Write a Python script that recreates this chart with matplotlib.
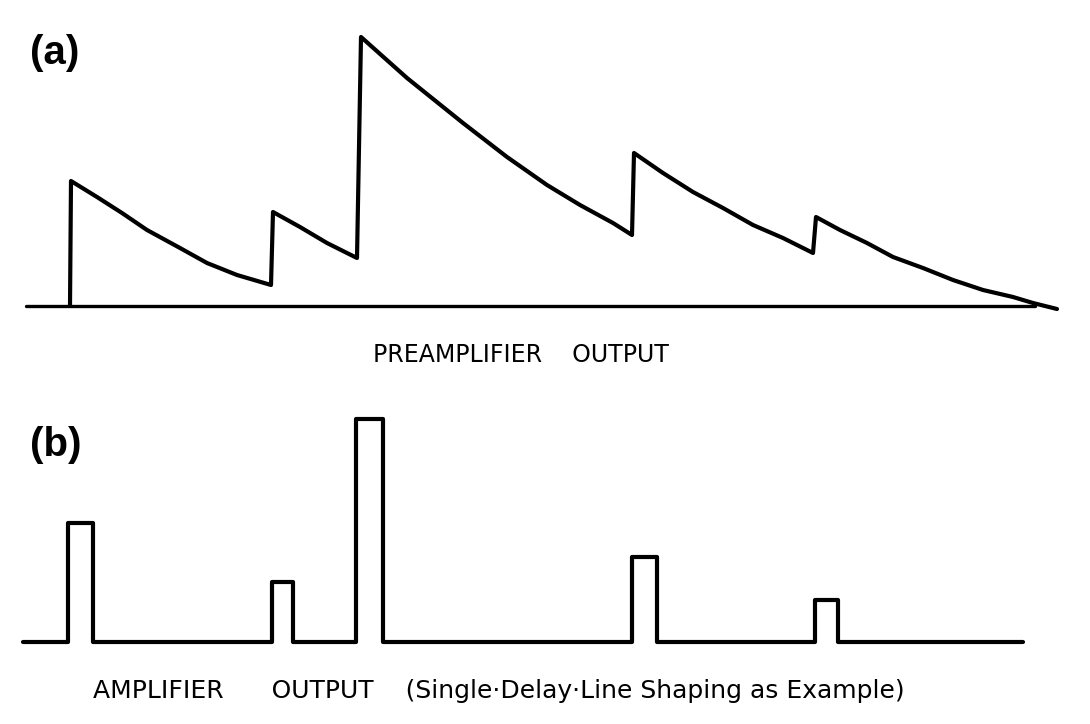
import numpy as np
import matplotlib
matplotlib.use('Agg')
import matplotlib.pyplot as plt

# (a) preamplifier output: time / amplitude
pre_t = [70, 71, 97, 122, 147, 180, 207, 237, 271,
         273, 300, 327, 357,
         361, 407, 463, 507, 547, 580, 613, 632,
         634, 663, 693, 723, 753, 783, 813,
         816, 840, 867, 893, 923, 953, 983, 1013, 1033, 1057]
pre_v = [0, 125, 109, 93, 76, 58, 43, 31, 21,
         94, 79, 63, 48,
         269, 228, 183, 149, 121, 101, 83, 71,
         153, 133, 114, 98, 81, 68, 53,
         89, 76, 63, 49, 38, 26, 16, 9, 3, -3]
pre_axis = [26, 1035]

# (b) amplifier output: shaped pulses
pulse_start = [68, 272, 356, 632, 815]
pulse_end = [93, 293, 383, 657, 838]
pulse_height = [119, 60, 223, 85, 42]
amp_axis = [23, 1023]

W, H = 1090, 724
fig = plt.figure(figsize=(W / 100, H / 100), dpi=100)

# panel (a)
ax1 = fig.add_axes([0, 1 - 330 / H, 1, 330 / H])
ax1.plot(pre_axis, [0, 0], color='black', lw=2.4, solid_capstyle='round')
ax1.plot(pre_t, pre_v, color='black', lw=3, solid_joinstyle='round',
         solid_capstyle='round')
ax1.set_xlim(0, W)
ax1.set_ylim(-24, 306)
ax1.axis('off')

# panel (b)
amp_t = [amp_axis[0]]
amp_v = [0]
for s, e, h in zip(pulse_start, pulse_end, pulse_height):
    amp_t += [s, s, e, e]
    amp_v += [0, h, h, 0]
amp_t.append(amp_axis[1])
amp_v.append(0)

ax2 = fig.add_axes([0, (H - 666) / H, 1, 300 / H])
ax2.plot(amp_t, amp_v, color='black', lw=3, solid_joinstyle='round',
         solid_capstyle='round')
ax2.set_xlim(0, W)
ax2.set_ylim(-24, 276)
ax2.axis('off')

# labels
fig.text(30 / W, 1 - 53 / H, '(a)', fontsize=29, fontweight='bold',
         family='Liberation Sans', ha='left', va='center')
fig.text(30 / W, 1 - 445 / H, '(b)', fontsize=29, fontweight='bold',
         family='Liberation Sans', ha='left', va='center')
fig.text(521 / W, 1 - 355 / H, 'PREAMPLIFIER    OUTPUT', fontsize=17,
         ha='center', va='center')
fig.text(93 / W, 1 - 691 / H,
         'AMPLIFIER      OUTPUT    (Single\u00b7Delay\u00b7Line Shaping as Example)',
         fontsize=18, ha='left', va='center')

fig.savefig('out.png', dpi=100)
